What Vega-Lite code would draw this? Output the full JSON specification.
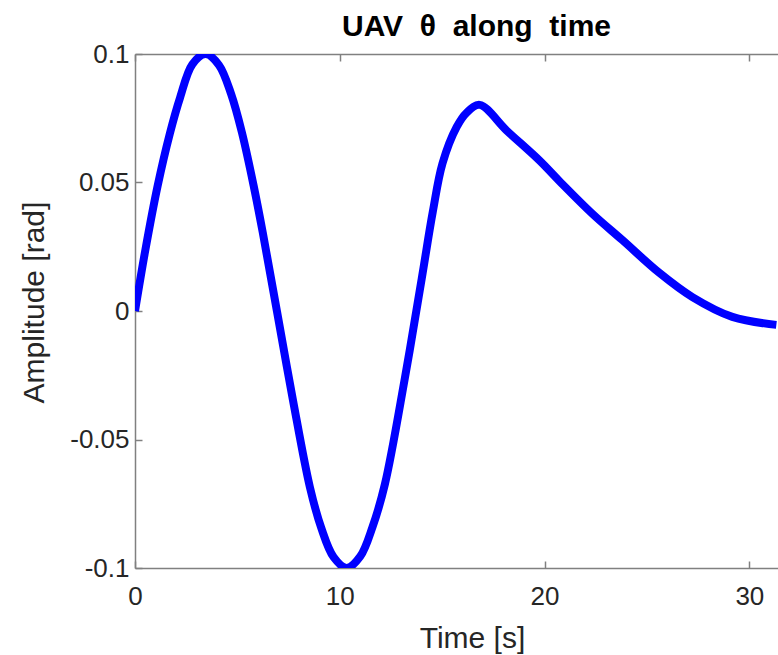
{
  "$schema": "https://vega.github.io/schema/vega-lite/v6.json",
  "autosize": {"type": "none"},
  "width": 643,
  "height": 514,
  "padding": {"left": 135, "top": 54, "right": 0, "bottom": 87},
  "background": "white",
  "config": {
    "view": {"stroke": null},
    "font": "Liberation Sans",
    "axis": {
      "grid": false,
      "domainColor": "#808080",
      "domainWidth": 1.5,
      "tickColor": "#808080",
      "tickWidth": 1.5,
      "labelColor": "#262626",
      "labelFont": "Liberation Sans",
      "labelFontSize": 26,
      "titleColor": "#262626",
      "titleFont": "Liberation Sans",
      "titleFontSize": 30,
      "titleFontWeight": "normal"
    }
  },
  "title": {
    "text": "UAV\u00a0\u00a0θ\u00a0\u00a0along\u00a0\u00a0time",
    "font": "Liberation Sans",
    "fontSize": 30,
    "fontWeight": "bold",
    "color": "#000000",
    "anchor": "middle",
    "baseline": "alphabetic",
    "offset": -25,
    "dx": 20
  },
  "data": {
    "values": [
      {"t": 0, "v": 0},
      {"t": 0.5, "v": 0.0235},
      {"t": 1.1, "v": 0.0485},
      {"t": 1.7, "v": 0.069},
      {"t": 2.2, "v": 0.083},
      {"t": 2.8, "v": 0.096},
      {"t": 3.45, "v": 0.1},
      {"t": 4.1, "v": 0.0957},
      {"t": 4.7, "v": 0.0843},
      {"t": 5.22, "v": 0.0695},
      {"t": 5.8, "v": 0.0485},
      {"t": 6.24, "v": 0.0305},
      {"t": 6.93, "v": 0.0},
      {"t": 7.71, "v": -0.0345},
      {"t": 8.54, "v": -0.0685},
      {"t": 9.1, "v": -0.0845},
      {"t": 9.7, "v": -0.0958},
      {"t": 10.34, "v": -0.1},
      {"t": 11.0, "v": -0.0955},
      {"t": 11.6, "v": -0.084},
      {"t": 12.2, "v": -0.0675},
      {"t": 13.17, "v": -0.0265},
      {"t": 14.0, "v": 0.0125},
      {"t": 14.54, "v": 0.0385},
      {"t": 15.02, "v": 0.0575},
      {"t": 15.71, "v": 0.0716},
      {"t": 16.2, "v": 0.0772},
      {"t": 16.83, "v": 0.0802},
      {"t": 18.15, "v": 0.0702},
      {"t": 19.76, "v": 0.0585},
      {"t": 20.73, "v": 0.0505},
      {"t": 22.34, "v": 0.0378},
      {"t": 23.8, "v": 0.0276},
      {"t": 25.61, "v": 0.0148},
      {"t": 27.22, "v": 0.0054},
      {"t": 29.17, "v": -0.0023},
      {"t": 31.32, "v": -0.0054}
    ]
  },
  "layer": [
    {
      "mark": {"type": "line", "color": "#0000FF", "strokeWidth": 8, "interpolate": "catmull-rom", "clip": true},
      "encoding": {
        "x": {
          "field": "t", "type": "quantitative",
          "scale": {"domain": [0, 31.4], "nice": false, "zero": false},
          "axis": {
            "orient": "bottom",
            "values": [0, 10, 20, 30],
            "tickSize": -7,
            "labelPadding": 22,
            "labelFlush": false,
            "title": "Time [s]",
            "titleX": 337,
            "titleY": 79,
            "titleBaseline": "alphabetic",
            "titleAnchor": null
          }
        },
        "y": {
          "field": "v", "type": "quantitative",
          "scale": {"domain": [-0.1, 0.1], "nice": false, "zero": false},
          "axis": {
            "orient": "left",
            "values": [-0.1, -0.05, 0, 0.05, 0.1],
            "labelExpr": "'' + datum.value",
            "tickSize": -7,
            "labelPadding": 13,
            "labelFlush": false,
            "title": "Amplitude [rad]",
            "titleAngle": -90,
            "titleX": -92,
            "titleY": 248,
            "titleBaseline": "alphabetic",
            "titleAlign": "center"
          }
        }
      }
    },
    {
      "mark": {"type": "line", "opacity": 0},
      "encoding": {
        "x": {
          "field": "t", "type": "quantitative",
          "axis": {
            "orient": "top",
            "values": [0, 10, 20, 30],
            "tickSize": -7,
            "labels": false,
            "title": null
          }
        },
        "y": {"field": "v", "type": "quantitative", "axis": null}
      }
    }
  ],
  "resolve": {"axis": {"x": "independent", "y": "independent"}}
}
